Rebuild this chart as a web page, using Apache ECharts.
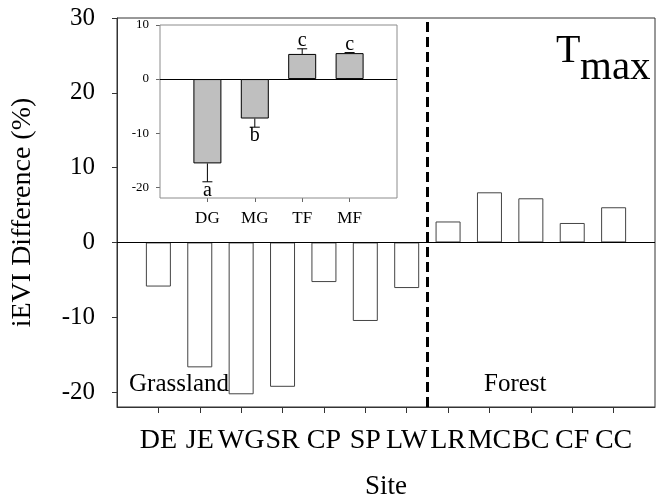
<!DOCTYPE html>
<html>
<head>
<meta charset="utf-8">
<script src="https://cdn.jsdelivr.net/npm/echarts@6/dist/echarts.min.js"></script>
<style>
  html, body { margin: 0; padding: 0; background: #fff; }
  #chart { width: 665px; height: 499px; }
</style>
</head>
<body>
<div id="chart"></div>
<script>
// main panel: sites and iEVI difference (%)
const sites = ['DE', 'JE', 'WG', 'SR', 'CP', 'SP', 'LW', 'LR', 'MC', 'BC', 'CF', 'CC'];
const ievi = [-5.9, -16.7, -20.3, -19.3, -5.3, -10.5, -6.1, 2.8, 6.7, 5.9, 2.6, 4.7];
const yTicks = [-20, -10, 0, 10, 20, 30];

// inset: group means, error bar ends, letters
const groups = ['DG', 'MG', 'TF', 'MF'];
const groupMean = [-15.6, -7.3, 4.65, 4.8];
const groupErr = [-19.0, -8.9, 5.6, 4.9];
const groupLetters = ['a', 'b', 'c', 'c'];
const insetTicks = [-20, -10, 0, 10];

const FONT = 'Liberation Serif';
const siteTicks = sites.map((s, i) => i + 1);
const groupTicks = groups.map((g, i) => i + 1);

const chart = echarts.init(document.getElementById('chart'), null, { renderer: 'canvas' });

const option = {
    backgroundColor: '#fff',
    animation: false,
    grid: [
        { left: 117, top: 18, right: 10, bottom: 92, outerBoundsMode: 'none', containLabel: false,
          show: true, borderColor: '#333', borderWidth: 1 },
        { left: 160, top: 25, right: 268, bottom: 301, outerBoundsMode: 'none', containLabel: false,
          show: true, borderColor: '#8c8c8c', borderWidth: 1, backgroundColor: '#fff', z: 5 }
    ],
    xAxis: [
        {
            type: 'value', gridIndex: 0, min: 0, max: 13,
            name: 'Site', nameLocation: 'middle', nameGap: 66,
            nameTextStyle: { fontFamily: FONT, fontSize: 27, color: '#000' },
            axisLine: { show: true, onZero: false, lineStyle: { color: '#333' } },
            axisTick: { show: true, inside: false, length: 6, customValues: siteTicks, lineStyle: { color: '#333' } },
            axisLabel: {
                customValues: siteTicks, margin: 20,
                fontFamily: FONT, fontSize: 28, color: '#000',
                formatter: v => sites[v - 1] || ''
            },
            splitLine: { show: false }
        },
        {
            type: 'value', gridIndex: 1, min: 0, max: 5,
            axisLine: { show: false, onZero: false },
            axisTick: { show: true, length: 4, customValues: groupTicks, lineStyle: { color: '#666' } },
            axisLabel: {
                customValues: groupTicks, margin: 12,
                fontFamily: FONT, fontSize: 17, color: '#000',
                formatter: v => groups[v - 1] || ''
            },
            splitLine: { show: false }
        }
    ],
    yAxis: [
        {
            type: 'value', gridIndex: 0, min: -22, max: 30,
            name: 'iEVI Difference (%)', nameLocation: 'middle', nameGap: 80,
            nameTextStyle: { fontFamily: FONT, fontSize: 28, color: '#000' },
            axisLine: { show: true, onZero: false, lineStyle: { color: '#333' } },
            axisTick: { show: true, length: 5, customValues: yTicks, lineStyle: { color: '#333' } },
            axisLabel: { customValues: yTicks, margin: 22, fontFamily: FONT, fontSize: 25, color: '#000' },
            splitLine: { show: false }
        },
        {
            type: 'value', gridIndex: 1, min: -22, max: 10,
            axisLine: { show: false, onZero: false },
            axisTick: { show: true, length: 4, customValues: insetTicks, lineStyle: { color: '#666' } },
            axisLabel: { customValues: insetTicks, margin: 11, fontFamily: FONT, fontSize: 13, color: '#000' },
            splitLine: { show: false }
        }
    ],
    series: [
        {
            type: 'bar', xAxisIndex: 0, yAxisIndex: 0,
            data: ievi.map((v, i) => [i + 1, v]),
            barWidth: 25,
            itemStyle: { color: '#fff', borderColor: '#444', borderWidth: 1 },
            markLine: {
                silent: true, symbol: 'none', label: { show: false },
                data: [
                    { yAxis: 0, lineStyle: { color: '#000', width: 1, type: 'solid' } },
                    { xAxis: 7.5, lineStyle: { color: '#000', width: 3, type: [10, 5] } }
                ]
            }
        },
        {
            type: 'bar', xAxisIndex: 1, yAxisIndex: 1, z: 6,
            data: groupMean.map((v, i) => [i + 1, v]),
            barWidth: 28,
            itemStyle: { color: '#bfbfbf', borderColor: '#000', borderWidth: 1 },
            markLine: {
                silent: true, symbol: 'none', label: { show: false },
                data: [{ yAxis: 0, lineStyle: { color: '#000', width: 1, type: 'solid' } }]
            }
        },
        {
            type: 'custom', xAxisIndex: 1, yAxisIndex: 1, z: 7,
            data: groupErr.map((v, i) => [i + 1, groupMean[i], v]),
            renderItem: function (params, api) {
                const x = api.value(0);
                const mean = api.value(1);
                const end = api.value(2);
                const p0 = api.coord([x, mean]);
                const p1 = api.coord([x, end]);
                const up = end >= 0;
                return {
                    type: 'group',
                    children: [
                        { type: 'line', shape: { x1: p0[0], y1: p0[1], x2: p1[0], y2: p1[1] },
                          style: { stroke: '#000', lineWidth: 1 } },
                        { type: 'line', shape: { x1: p1[0] - 5, y1: p1[1], x2: p1[0] + 5, y2: p1[1] },
                          style: { stroke: '#000', lineWidth: 1 } },
                        { type: 'text',
                          style: { text: groupLetters[params.dataIndex], x: p1[0], y: p1[1] + (up ? 2 : -1),
                                   align: 'center', verticalAlign: up ? 'bottom' : 'top',
                                   font: '20px ' + FONT, fill: '#000' } }
                    ]
                };
            }
        }
    ],
    graphic: [
        { type: 'text', style: { text: 'Grassland', x: 129, y: 384, verticalAlign: 'middle',
                                 font: '25px ' + FONT, fill: '#000' } },
        { type: 'text', style: { text: 'Forest', x: 484, y: 384, verticalAlign: 'middle',
                                 font: '25px ' + FONT, fill: '#000' } },
        { type: 'text', style: { text: 'T', x: 556, y: 51, verticalAlign: 'middle',
                                 font: '40px ' + FONT, fill: '#000' } },
        { type: 'text', style: { text: 'max', x: 580, y: 68, verticalAlign: 'middle',
                                 font: '41px ' + FONT, fill: '#000' } }
    ]
};

chart.setOption(option);
window.addEventListener('resize', () => chart.resize());
</script>
</body>
</html>
